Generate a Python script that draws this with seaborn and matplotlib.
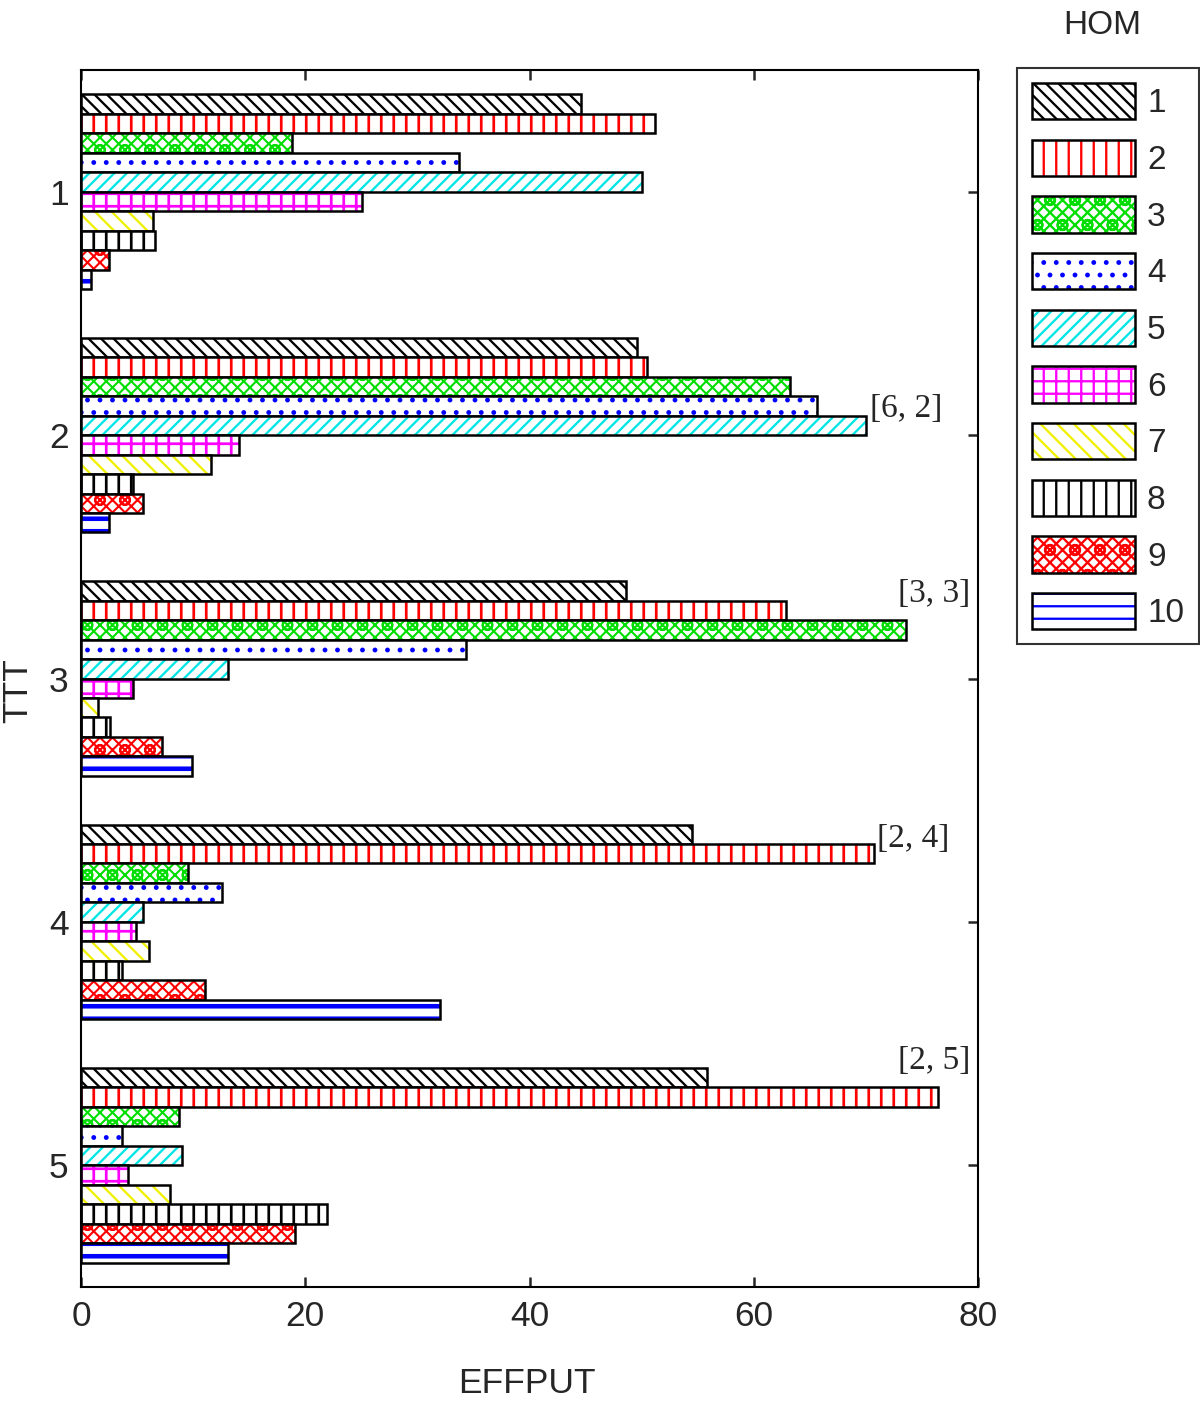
"""Barras horizontais hachuradas: EFFPUT por TTT e HOM."""

import matplotlib
matplotlib.use("Agg")
import matplotlib.pyplot as plt
import matplotlib.colors as mcolors
from matplotlib.patches import Patch
import pandas as pd
import seaborn as sns

# Categorias
TTT = ["1", "2", "3", "4", "5"]
HOM = ["1", "2", "3", "4", "5", "6", "7", "8", "9", "10"]

# EFFPUT de cada HOM, na ordem de TTT 1..5
hom_1 = [44.6, 49.6, 48.6, 54.5, 55.8]
hom_2 = [51.2, 50.5, 62.9, 70.7, 76.4]
hom_3 = [18.8, 63.2, 73.6, 9.5, 8.7]
hom_4 = [33.7, 65.6, 34.3, 12.6, 3.7]
hom_5 = [50.0, 70.0, 13.1, 5.5, 9.0]
hom_6 = [25.1, 14.1, 4.6, 4.9, 4.2]
hom_7 = [6.4, 11.6, 1.5, 6.1, 7.9]
hom_8 = [6.6, 4.6, 2.6, 3.7, 21.9]
hom_9 = [2.5, 5.5, 7.2, 11.1, 19.1]
hom_10 = [0.9, 2.5, 9.9, 32.0, 13.1]

# Rótulos de destaque: texto, x, posição do grupo
ANNOT_TEXT = ["[6, 2]", "[3, 3]", "[2, 4]", "[2, 5]"]
ANNOT_X = [70.4, 72.9, 71.0, 72.9]
ANNOT_Y = [0.89, 1.65, 2.66, 3.57]

HATCHES = ["\\\\\\\\", "||", "xxxxo", "..", "////", "++", "\\\\\\", "||", "xxxxo", "--"]
HATCH_COLORS = ["black", "red", "#00dd00", "blue", "#00e5e5", "magenta",
                "#f0f000", "black", "red", "blue"]
HATCH_LW = [1.1, 1.3, 1.0, 1.1, 1.1, 1.3, 1.1, 1.3, 1.0, 2.2]

series = [hom_1, hom_2, hom_3, hom_4, hom_5, hom_6, hom_7, hom_8, hom_9, hom_10]
df = pd.DataFrame(
    [(t, h, v) for h, vals in zip(HOM, series) for t, v in zip(TTT, vals)],
    columns=["TTT", "HOM", "EFFPUT"],
)

sns.set_theme(style="ticks")
plt.rcParams["font.family"] = ["Liberation Sans", "DejaVu Sans"]
plt.rcParams["hatch.linewidth"] = 1.1


def style_bar(patch, hatch, hcolor, hlw, lw=1.2):
    """Fundo branco, borda preta e hachura colorida."""
    patch.set_facecolor("white")
    patch.set_edgecolor("black")
    patch.set_linewidth(lw)
    patch.set_hatch(hatch)
    patch._hatch_color = mcolors.to_rgba(hcolor)
    if hasattr(patch, "set_hatch_linewidth"):
        patch.set_hatch_linewidth(hlw)


fig = plt.figure(figsize=(8, 1408 / 150), dpi=150)
ax = fig.add_axes([81 / 1200, 1 - 1287 / 1408, 897 / 1200, 1217 / 1408])

sns.barplot(data=df, y="TTT", x="EFFPUT", hue="HOM", order=TTT, hue_order=HOM,
            orient="h", palette=["white"] * len(HOM), errorbar=None,
            width=0.8, legend=False, ax=ax)

for cont, hatch, hcol, hlw in zip(ax.containers, HATCHES, HATCH_COLORS, HATCH_LW):
    for bar in cont:
        style_bar(bar, hatch, hcol, hlw)

for txt, x, y in zip(ANNOT_TEXT, ANNOT_X, ANNOT_Y):
    ax.text(x, y, txt, ha="left", va="center", fontsize=16,
            family=["Liberation Serif", "DejaVu Serif"])

ax.set_xlim(0, 80)
ax.set_xticks([0, 20, 40, 60, 80])
ax.tick_params(axis="both", direction="in", length=5, width=1.2,
               labelsize=17, top=True, right=True, pad=6)
for s in ax.spines.values():
    s.set_linewidth(1.0)
    s.set_color("black")

ax.set_xlabel("EFFPUT", fontsize=17)
ax.set_ylabel("TTT", fontsize=17)
ax.xaxis.set_label_coords(0.497, -0.066)
ax.yaxis.set_label_coords(-0.052, 0.49)

# Legenda (título fora da caixa, como no original)
handles = []
for hatch, hcol, hlw in zip(HATCHES, HATCH_COLORS, HATCH_LW):
    p = Patch()
    style_bar(p, hatch, hcol, hlw)
    handles.append(p)
leg = fig.legend(handles, HOM, loc="upper left",
                 bbox_to_anchor=(1017 / 1200, 1 - 68 / 1408),
                 bbox_transform=fig.transFigure, borderaxespad=0,
                 fontsize=16, handlelength=3.1, handleheight=1.3,
                 handletextpad=0.35, labelspacing=0.61, borderpad=0.45,
                 fancybox=False, frameon=True)
leg.get_frame().set_edgecolor("black")
leg.get_frame().set_linewidth(1.0)
fig.text(1102 / 1200, 1 - 25 / 1408, "HOM", ha="center", va="center", fontsize=16)

plt.savefig("out.png", dpi=150)
plt.close("all")
